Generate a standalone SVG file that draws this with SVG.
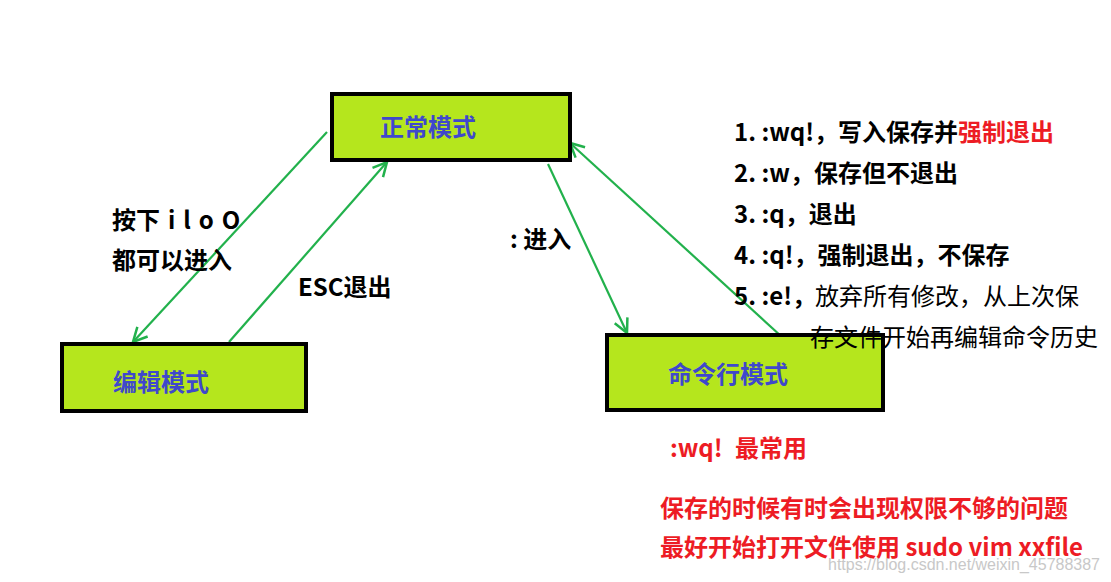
<svg xmlns="http://www.w3.org/2000/svg" width="1111" height="582" viewBox="0 0 1111 582">
<style>
.box{fill:#b5e61d;stroke:#000;stroke-width:4}
.lbl{font-family:"Noto Sans CJK SC",sans-serif;font-size:24px;font-weight:bold;fill:#3f48cc}
.t{font-family:"Noto Sans CJK SC",sans-serif;font-size:24px;font-weight:bold;fill:#000}
.r{fill:#ed1c24}
.n{font-weight:normal}
.edge{stroke:#22b14c;stroke-width:2.2;fill:none}
.wm{font-family:"Liberation Sans",sans-serif;font-size:16px;fill:#c8c8c8}
</style>
<defs>
<marker id="ah" markerUnits="userSpaceOnUse" markerWidth="30" markerHeight="30" refX="0" refY="0" viewBox="-15 -15 30 30" orient="auto">
<path d="M-14,-7 L0,0 L-14,7" stroke="#22b14c" stroke-width="2.5" fill="none"/>
</marker>
</defs>
<rect width="1111" height="582" fill="#fff"/>
<g id="edges">
<line class="edge" x1="327" y1="132" x2="133" y2="342" marker-end="url(#ah)"/>
<line class="edge" x1="229" y1="342" x2="387" y2="162" marker-end="url(#ah)"/>
<line class="edge" x1="548" y1="164" x2="627" y2="333" marker-end="url(#ah)"/>
<line class="edge" x1="782" y1="337" x2="570" y2="143" marker-end="url(#ah)"/>
</g>
<g id="normal">
<rect class="box" x="332" y="94" width="238" height="66"/>
<text class="lbl" x="380" y="136">正常模式</text>
</g>
<g id="edit">
<rect class="box" x="62" y="344" width="244" height="67"/>
<text class="lbl" x="113" y="391">编辑模式</text>
</g>
<g id="cmd">
<rect class="box" x="607" y="335" width="276" height="75"/>
<text class="lbl" x="668" y="383">命令行模式</text>
</g>
<g id="labels">
<text class="t" x="112" y="229" style="word-spacing:2.5px">按下 i l o O</text>
<text class="t" x="112" y="269">都可以进入</text>
<text class="t" x="298" y="296">ESC退出</text>
<text class="t" x="510" y="248">: 进入</text>
<text class="t" x="734" y="141">1. :wq!，写入保存并<tspan class="r">强制退出</tspan></text>
<text class="t" x="734" y="182">2. :w，保存但不退出</text>
<text class="t" x="734" y="223">3. :q，退出</text>
<text class="t" x="734" y="264">4. :q!，强制退出，不保存</text>
<text class="t" x="734" y="305">5. :e!，<tspan class="n" x="815">放弃所有修改，从上次保</tspan></text>
<text class="t n" x="810" y="346">存文件开始再编辑命令历史</text>
<text class="t r" x="670" y="457">:wq!  <tspan x="735">最常用</tspan></text>
<text class="t r" x="660" y="517">保存的时候有时会出现权限不够的问题</text>
<text class="t r" x="660" y="556">最好开始打开文件使用 sudo vim xxfile</text>
<text class="wm" x="828" y="570" textLength="272" lengthAdjust="spacingAndGlyphs">https://blog.csdn.net/weixin_45788387</text>
</g>
</svg>
